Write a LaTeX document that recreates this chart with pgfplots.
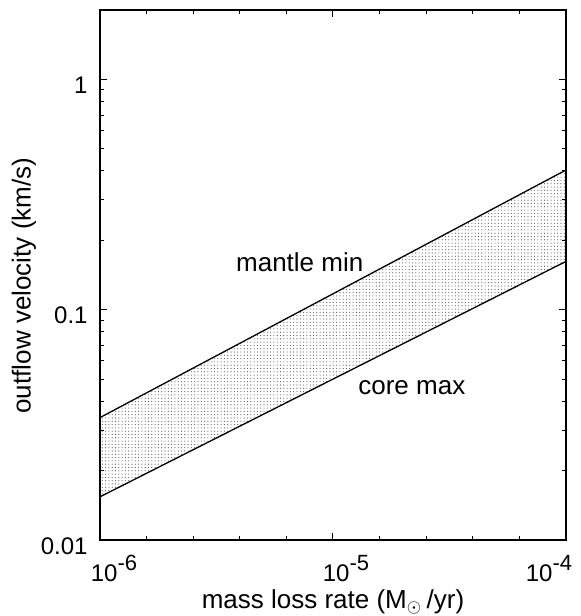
\documentclass[border=0pt]{standalone}
\usepackage{fontspec}
\setmainfont{Liberation Sans}
\usepackage{pgfplots}
\pgfplotsset{compat=1.18}
\usetikzlibrary{patterns}

\pgfdeclarepatternformonly{finedots}{\pgfqpoint{-0.3pt}{-0.3pt}}{\pgfqpoint{0.3pt}{0.3pt}}{\pgfqpoint{1.65pt}{1.65pt}}{%
  \pgfpathcircle{\pgfqpoint{0pt}{0pt}}{0.28pt}\pgfusepath{fill}}

\newcommand{\pw}[1]{10\raisebox{5.5pt}{\fontsize{11}{12}\selectfont #1}}

\begin{document}
\fontsize{13}{15}\selectfont
\begin{tikzpicture}
\path[use as bounding box] (0,0) rectangle (290.5pt,308pt);
\begin{axis}[
    at={(50pt,38pt)}, anchor=south west,
    scale only axis, width=233pt, height=265pt,
    xmode=log, ymode=log,
    xmin=1e-6, xmax=1e-4, ymin=0.01, ymax=2,
    xtick={1e-6,1e-5,1e-4},
    xticklabels={\hspace*{14pt}\pw{-6},\hspace*{13pt}\pw{-5},\hspace*{-17pt}\pw{-4}},
    minor xtick={1.585e-6,2.512e-6,3.981e-6,6.310e-6,1.585e-5,2.512e-5,3.981e-5,6.310e-5},
    ytick={0.01,0.1,1},
    yticklabels={0.01,0.1,1},
    xtick style={black, line width=0.5pt},
    ytick style={black, line width=0.5pt},
    major tick length=3.5pt, minor tick length=2pt,
    axis line style={line width=0.6pt},
    tick label style={font=\fontsize{12}{14}\selectfont, inner sep=0pt},
    label style={font=\fontsize{13}{15}\selectfont},
    xlabel={mass loss rate (M$_\odot$\,/yr)},
    ylabel={outflow velocity (km/s)},
    xlabel style={at={(axis description cs:0.5,-0.130)}, anchor=base},
    ylabel style={at={(axis description cs:-0.163,0.48)}, anchor=center},
    xticklabel style={anchor=base, yshift=-20.5pt},
    yticklabel style={anchor=east, xshift=-6pt, yshift=-3pt},
]
\addplot[draw=none, pattern=finedots, pattern color=black!65] coordinates {
    (1e-6,0.034) (1e-4,0.404) (1e-4,0.162) (1e-6,0.0154)
} -- cycle;
\addplot[black, line width=0.65pt] coordinates {(1e-6,0.034) (1e-4,0.404)};
\addplot[black, line width=0.65pt] coordinates {(1e-6,0.0154) (1e-4,0.162)};
\node at (axis cs:7.2e-6,0.16) {mantle min};
\node at (axis cs:2.18e-5,0.046) {core max};
\end{axis}
\end{tikzpicture}
\end{document}
